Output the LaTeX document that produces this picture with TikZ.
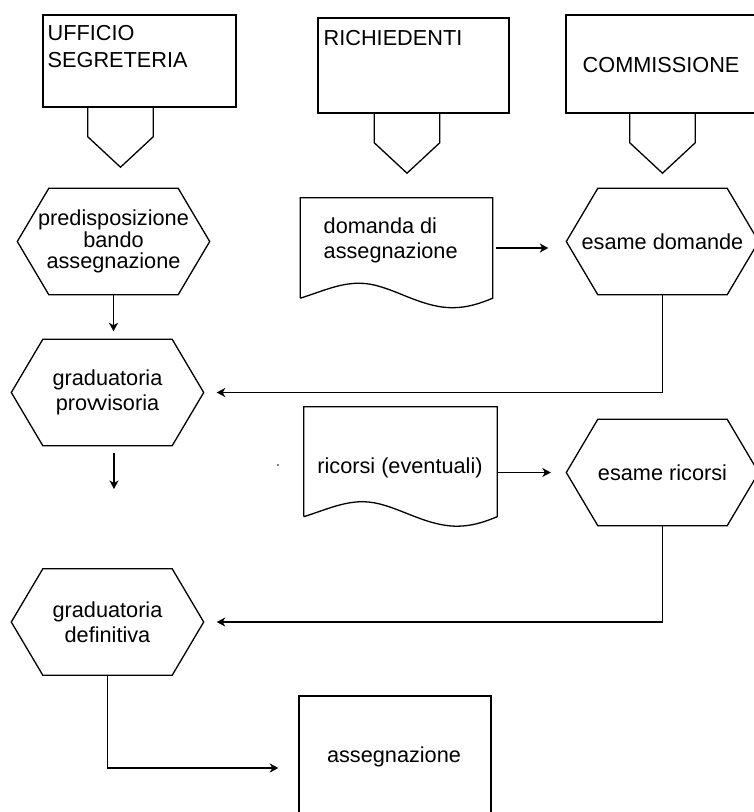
\documentclass[tikz,border=0pt]{standalone}
\usepackage{fontspec}
\setmainfont{Liberation Sans}
\usetikzlibrary{arrows.meta,calc}
\newcommand\hexdraw[1]{%
  \draw[shp] (#1.west) -- ($(#1.north west)+(31.5,0)$) -- ($(#1.north east)+(-31.5,0)$)
    -- (#1.east) -- ($(#1.south east)+(-31.5,0)$) -- ($(#1.south west)+(31.5,0)$) -- cycle;}
\newcommand\pentdraw[1]{%
  \draw[shp] (#1.north west) -- (#1.north east) -- ($(#1.north east)+(0,30)$)
    -- (#1.south) -- ($(#1.north west)+(0,30)$) -- cycle;}
\newcommand\docdraw[1]{%
  \draw[shp] (#1.south west) -- (#1.north west) -- (#1.north east) -- (#1.south east)
    .. controls +(-12,5) and +(15,0) .. ($(#1.south east)+(-40,9.5)$)
    .. controls +(-35,0) and +(30,0) .. ($(#1.south west)+(59,-15)$)
    .. controls +(-20,0) and +(22,-7) .. (#1.south west);}
\tikzset{
  shp/.style={line width=1.3pt, line join=miter},
  txt/.style={inner sep=0pt, font=\fontsize{21.7}{25}\selectfont},
  hexbox/.style={txt, align=center, minimum width=192pt, minimum height=106pt},
  pentbox/.style={inner sep=0pt, minimum width=65pt, minimum height=60pt},
  docbox/.style={inner sep=0pt, minimum width=192pt},
  headbox/.style={draw, line width=1.3pt, inner sep=0pt},
  arr/.style={line width=1.3pt, -{Stealth[length=8.5pt,width=9pt,inset=2.5pt]}},
}
\begin{document}
\begin{tikzpicture}[x=1pt,y=-1pt]
\useasboundingbox (0,0) rectangle (754,812);
\clip (0,0) rectangle (754,812);
\fill[white] (0,0) rectangle (754,812);

% header boxes
\node[headbox, minimum width=193pt, minimum height=92pt] (uff) at (139.5,61) {};
\node[txt, anchor=west, align=left, font=\fontsize{21.7}{27}\selectfont] (uffT) at (47.5,46.5) {UFFICIO\\SEGRETERIA};
\node[headbox, minimum width=191pt, minimum height=95pt] (rich) at (413.5,65.5) {};
\node[txt, anchor=west] (richT) at (323.5,38) {RICHIEDENTI};
\node[headbox, minimum width=193pt, minimum height=98pt] (comm) at (662.5,64) {};
\node[txt, anchor=west] (commT) at (582.5,65) {COMMISSIONE};

% off-page connectors
\node[pentbox] (p1) at (120.5,137) {}; \pentdraw{p1}
\node[pentbox] (p2) at (407,143) {};   \pentdraw{p2}
\node[pentbox] (p3) at (662.5,143) {}; \pentdraw{p3}

% hexagons
\node[hexbox, font=\fontsize{21.7}{21.5}\selectfont] (pred) at (113.5,241.5) {predisposizione\\bando\\assegnazione};
\hexdraw{pred}
\node[hexbox] (gprov) at (107.5,392.5) {graduatoria\\prov\kern-1.6pt visoria};
\hexdraw{gprov}
\node[hexbox] (ed) at (662.5,241.5) {esame domande};
\hexdraw{ed}
\node[hexbox] (er) at (662.5,472.5) {esame ricorsi};
\hexdraw{er}
\node[hexbox] (gdef) at (107.5,622) {graduatoria\\definitiva};
\hexdraw{gdef}

% documents
\node[docbox, minimum height=100pt] (dom) at (396.5,248) {};
\docdraw{dom}
\node[txt, anchor=west, align=left] (domT) at (323.5,240.5) {domanda di\\assegnazione};
\node[docbox, minimum width=193pt, minimum height=109.5pt] (ric) at (400.5,461.75) {};
\docdraw{ric}
\node[txt] (ricT) at (400,468) {ricorsi (eventuali)};

% final box
\node[headbox, minimum width=192pt, minimum height=144pt] (ass) at (395,768) {};
\node[txt] (assT) at (394,757) {assegnazione};

% stray dot
\node[circle, fill, inner sep=0pt, minimum size=1.8pt] (dot) at (278,465) {};

% connectors
\coordinate (gapend) at (114,489);
\draw[arr, shorten >=8pt] (pred.south) -- (pred.south |- gprov.north);
\draw[arr, shorten <=7.5pt] (gapend |- gprov.south) -- (gapend);
\draw[arr, shorten <=3pt, shorten >=18pt] (dom.east) -- (dom.east -| ed.west);
\draw[arr, shorten >=13pt] (ed.south) |- (gprov.east);
\draw[arr, shorten >=15.5pt] (ric.east |- er.west) -- (er.west);
\draw[arr, shorten >=13pt] (er.south) |- (gdef.east);
\draw[arr, shorten >=20pt] (gdef.south) |- (ass.west);
\end{tikzpicture}
\end{document}
